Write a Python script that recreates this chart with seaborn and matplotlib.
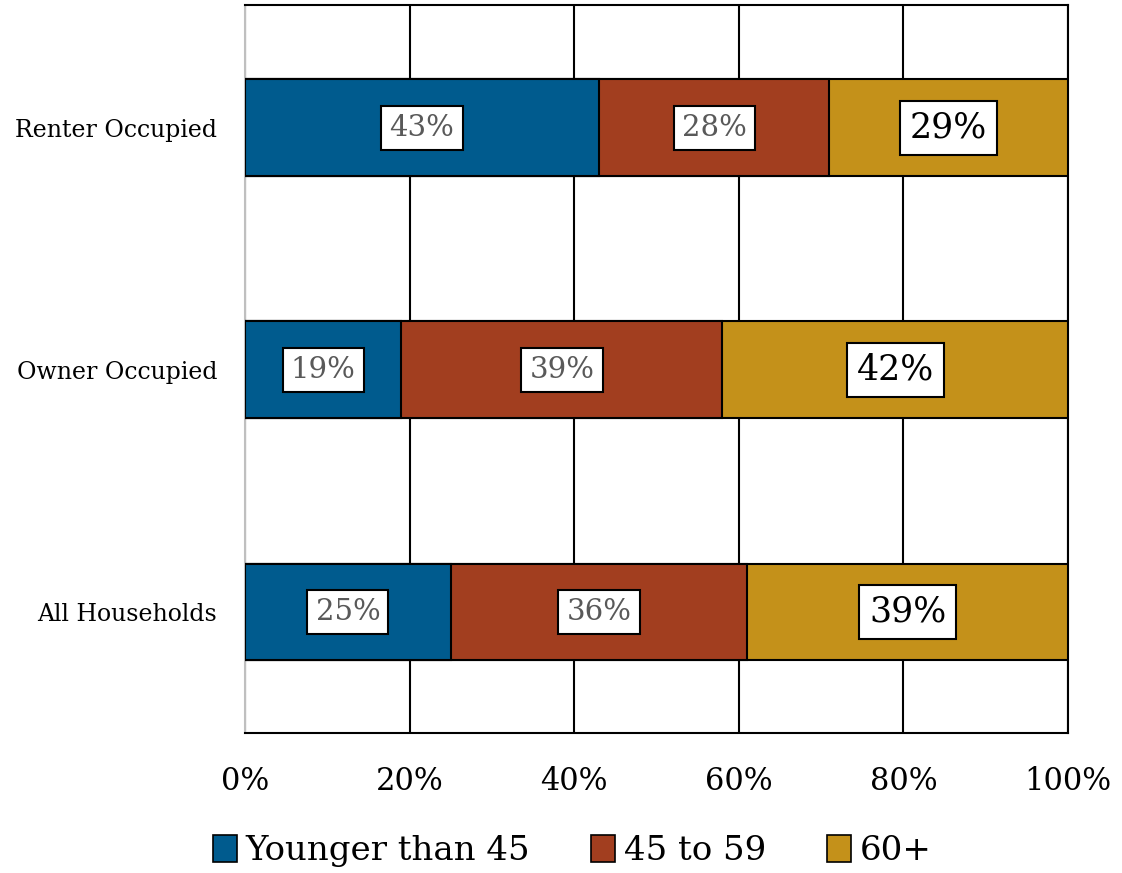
import matplotlib
matplotlib.use("Agg")
import matplotlib.pyplot as plt
import seaborn as sns
import pandas as pd
import numpy as np
from matplotlib.patches import Patch

categories = ["Renter Occupied", "Owner Occupied", "All Households"]
series_names = ["Younger than 45", "45 to 59", "60+"]
younger = [43, 19, 25]
middle = [28, 39, 36]
older = [29, 42, 39]
colors = ["#005B8E", "#A23E1F", "#C4911A"]
xticks = [0, 20, 40, 60, 80, 100]
xtick_labels = ["0%", "20%", "40%", "60%", "80%", "100%"]

sns.set_theme(style="white")
plt.rcParams["font.family"] = ["DejaVu Serif"]
plt.rcParams["text.color"] = "black"

fig = plt.figure(figsize=(11.22, 8.73), dpi=100)
ax = fig.add_axes([0.2184, 0.1604, 0.7335, 0.834])

vals = np.array([younger, middle, older], dtype=float)
cum = np.cumsum(vals, axis=0)

# draw largest cumulative first so smaller ones overlap on top
for i in range(len(series_names) - 1, -1, -1):
    df = pd.DataFrame({"cat": categories, "val": cum[i]})
    sns.barplot(data=df, x="val", y="cat", orient="h", color=colors[i],
                saturation=1, width=0.4, edgecolor="black", linewidth=1.5,
                ax=ax, zorder=3)

# labels
for i in range(len(series_names)):
    for j, cat in enumerate(categories):
        start = cum[i][j] - vals[i][j]
        cx = start + vals[i][j] / 2
        if i == 2:
            fs, col = 25, "black"
        else:
            fs, col = 21, "#595959"
        ax.text(cx, j, f"{int(vals[i][j])}%", ha="center", va="center",
                fontsize=fs, color=col, zorder=5,
                bbox=dict(boxstyle="square,pad=0.28", facecolor="white",
                          edgecolor="black", linewidth=1.5))

ax.set_xlim(0, 100)
ax.set_ylim(2.5, -0.508)
ax.set_xticks(xticks)
ax.set_xticklabels(xtick_labels, fontsize=22)
ax.set_xlabel("")
ax.set_ylabel("")
ax.tick_params(axis="x", length=0, pad=24, labelcolor="black")
ax.tick_params(axis="y", length=0, pad=20, labelsize=17, labelcolor="black")

ax.xaxis.grid(True, color="black", linewidth=1.5, zorder=0)
ax.yaxis.grid(False)
ax.set_axisbelow(True)
for side in ["top", "right", "bottom"]:
    ax.spines[side].set_visible(True)
    ax.spines[side].set_color("black")
    ax.spines[side].set_linewidth(1.5)
ax.spines["left"].set_color("#BFBFBF")
ax.spines["left"].set_linewidth(1.5)

handles = [Patch(facecolor=c, edgecolor="black", linewidth=1.2) for c in colors]
leg = fig.legend(handles, series_names, loc="center", bbox_to_anchor=(0.51, 0.025),
                 ncol=3, frameon=False, fontsize=24.5, handlelength=0.7, handleheight=0.85,
                 handletextpad=0.25, columnspacing=1.8)
for t in leg.get_texts():
    t.set_color("black")

fig.savefig("out.png", dpi=100)
